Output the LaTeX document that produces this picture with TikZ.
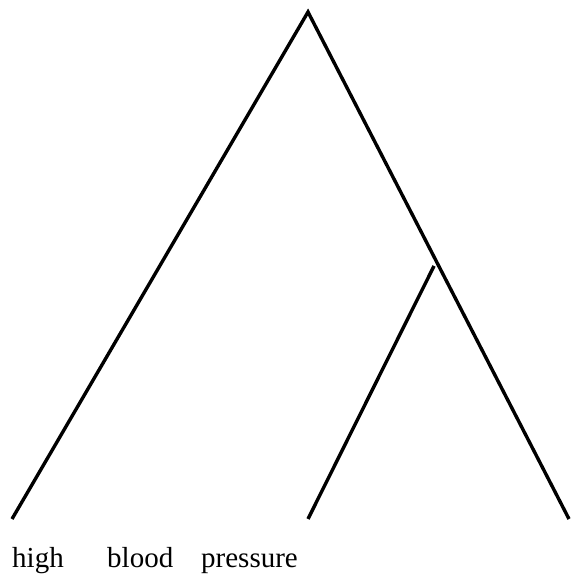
\documentclass[tikz,border=0pt]{standalone}
\usepackage{fontspec}
\setmainfont{Liberation Serif}
\begin{document}
\begin{tikzpicture}[x=1pt,y=1pt,
  edge/.style={line width=3.4pt},
  word/.style={anchor=base west,inner sep=0pt,font=\fontsize{29}{31}\selectfont}]
\useasboundingbox (0,0) rectangle (571,575);
\coordinate (root) at (308,563);
\coordinate (mid) at (434,309);
\coordinate (l1) at (12,56);
\coordinate (l2) at (308,56);
\coordinate (l3) at (569,56);
\draw[edge,line join=miter] (l1) -- (root) -- (l3);
\draw[edge] (mid) -- (l2);
\node[word] (w1) at (12,8) {high};
\node[word] (w2) at (107,8) {blood};
\node[word] (w3) at (201,8) {pressure};
\end{tikzpicture}
\end{document}
